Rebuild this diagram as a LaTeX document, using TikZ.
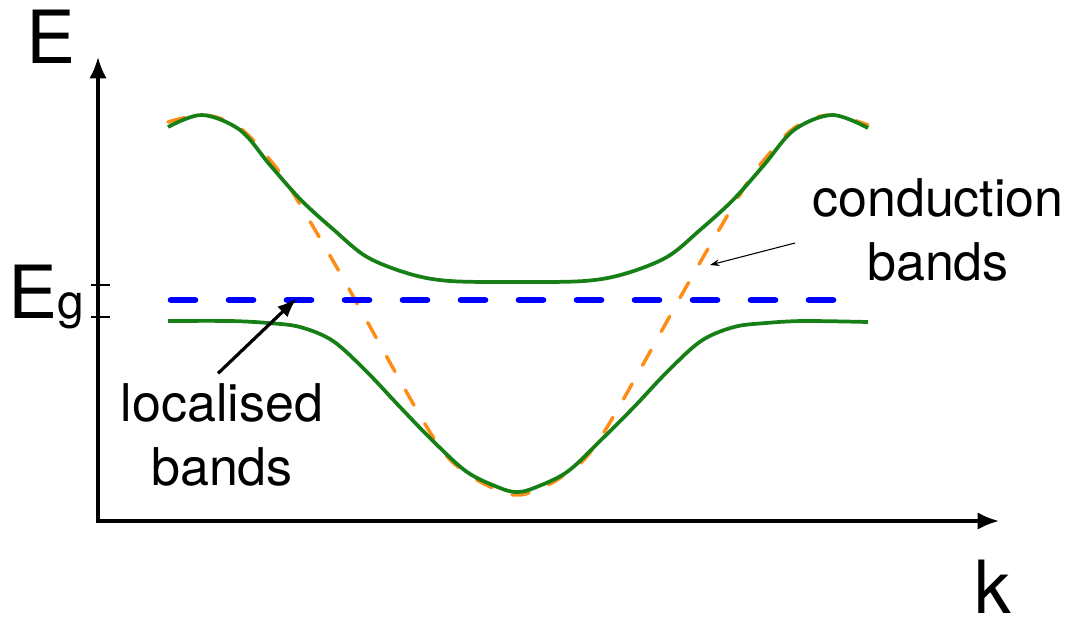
\documentclass[tikz,border=0pt]{standalone}
\usepackage{fontspec}
\setmainfont{TeX Gyre Heros}
\usetikzlibrary{arrows.meta}

\definecolor{bandgreen}{RGB}{22,128,22}
\definecolor{bandorange}{RGB}{255,140,20}

\begin{document}
\begin{tikzpicture}[x=0.75pt, y=-0.75pt, >={Latex[length=16pt,width=13pt]},
    axis/.style={line width=2.4pt, ->},
    band/.style={line width=2.8pt, bandgreen},
    freeband/.style={line width=2.6pt, bandorange, line cap=round, dash pattern=on 13pt off 16pt},
    level/.style={line width=5pt, blue, line cap=round, dash pattern=on 18pt off 25.5pt},
    biglabel/.style={inner sep=0pt, font=\fontsize{55}{60}\selectfont},
    note/.style={inner sep=0pt, align=center, font=\fontsize{39}{48}\selectfont}]
    \useasboundingbox (0,0) rectangle (1071,619);

    % --- Achsen ---
    \coordinate (origin) at (98,521);
    \coordinate (etop) at (98,57);
    \coordinate (kend) at (999,521);
    \draw[axis] (origin) -- (etop);
    \draw[axis] ([xshift=-1.2pt]origin) -- (kend);
    \node[biglabel, anchor=base] (elabel) at (51,63) {E};
    \node[biglabel, anchor=base] (klabel) at (993,613) {k};

    % Markierungen fuer E_g
    \draw[line width=0.9pt] (91,285) -- (110,285);
    \draw[line width=0.9pt] (91,317) -- (110,317);
    \node[biglabel, anchor=base] (eglabel) at (46,318) {E{\fontsize{36}{40}\selectfont g}};

    % --- freie Baender (gestrichelt) ---
    \draw[freeband] plot[smooth, tension=0.55] coordinates {
      (168,122) (205,115) (240,128) (270,160) (290,188) (340,273) (433,437)
      (470,475) (500,491) (517,495) (534,491) (564,475) (601,437) (694,273)
      (744,188) (764,160) (794,128) (829,115) (868,125)};

    % --- Leitungsbaender ---
    \draw[band] plot[smooth, tension=0.55] coordinates {
      (168,127) (202,115) (240,130) (270,165) (301,200) (334,230) (367,257)
      (410,274) (450,281) (517,282) (584,281) (624,274) (667,257) (700,230)
      (733,200) (764,165) (794,130) (832,115) (868,128)};
    \draw[band] plot[smooth, tension=0.55] coordinates {
      (168,321) (230,321) (268,323) (300,327) (333,341) (367,372) (400,407)
      (433,441) (467,472) (500,488) (517,492) (534,488) (567,472) (600,441)
      (634,407) (667,372) (701,341) (734,327) (766,323) (804,321) (868,322)};

    % --- lokalisiertes Niveau ---
    \coordinate (levelstart) at (171,300);
    \coordinate (levelend) at (843,300);
    \draw[level] (levelstart) -- (levelend);

    % --- Beschriftungen ---
    \node[note] (loclabel) at (222,435) {localised\\bands};
    \coordinate (loctip) at (297,298);
    \draw[line width=2.4pt, -{Latex[length=15pt,width=11pt]}]
      ([shift={(-4,-10)}]loclabel.north) -- (loctip);

    \node[note] (condlabel) at (938,230) {conduction\\bands};
    \coordinate (condtip) at (710,265);
    \draw[line width=0.8pt, -{Stealth[length=7pt,width=5pt]}]
      ([shift={(-17,13)}]condlabel.west) -- (condtip);
\end{tikzpicture}
\end{document}
